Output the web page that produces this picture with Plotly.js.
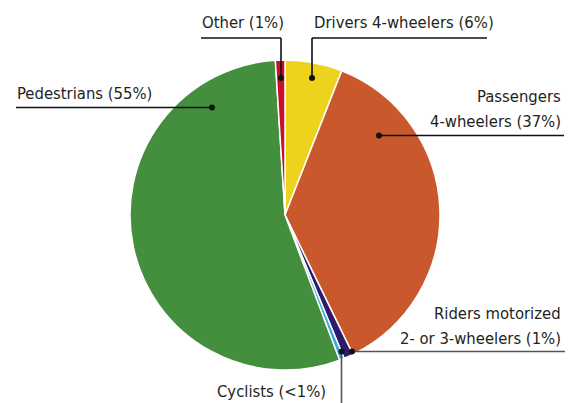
<!DOCTYPE html>
<html><head><meta charset="utf-8">
<script src="https://cdn.plot.ly/plotly-3.0.1.min.js"></script>
<style>body{margin:0;background:#fff}#c{width:576px;height:403px}</style>
</head><body><div id="c"></div>
<script>
const categories = ["Drivers 4-wheelers", "Passengers 4-wheelers", "Riders motorized 2- or 3-wheelers", "Cyclists", "Pedestrians", "Other"];
const values = [6, 37, 1, 0.5, 55, 1];
const shareLabels = ["6%", "37%", "1%", "<1%", "55%", "1%"];
const colors = ["#EDD31D", "#C9582D", "#2D1B6B", "#3DA7E0", "#438F3E", "#C8102E"];

const W = 576, H = 403;
const cx = 285, cy = 215, R = 155;
const px = x => x / W, py = y => 1 - y / H;

const FONT = {family: "'DejaVu Sans Condensed', 'Liberation Sans Narrow', sans-serif", size: 16.5, color: "#231f20"};

// label layout (pixel positions of text lines, leader paths, dot)
const labelLayout = [
  {i: 5, lines: ["Other (1%)"], anchor: "left", x: 200, ys: [23], path: [[201, 38], [281, 38], [281, 78]], col: "#111"},
  {i: 0, lines: ["Drivers 4-wheelers (6%)"], anchor: "left", x: 312, ys: [23], path: [[487, 38], [312, 38], [312, 78]], col: "#111"},
  {i: 4, lines: ["Pedestrians (55%)"], anchor: "left", x: 15, ys: [93], path: [[16, 107.5], [212, 107.5]], col: "#111"},
  {i: 1, lines: ["Passengers", "4-wheelers (37%)"], anchor: "right", x: 563, ys: [97, 122], path: [[564, 135.5], [379, 135.5]], col: "#111"},
  {i: 2, lines: ["Riders motorized", "2- or 3-wheelers (1%)"], anchor: "right", x: 563, ys: [313, 338], path: [[565, 351.5], [352, 351.5]], col: "#555"},
  {i: 3, lines: ["Cyclists (<1%)"], anchor: "right", x: 328, ys: [391], path: [[341.5, 403], [341.5, 351.5]], col: "#555"}
];

const shapes = [], annotations = [];
labelLayout.forEach(L => {
  L.lines.forEach((t, k) => {
    annotations.push({xref: "paper", yref: "paper", x: px(L.x), y: py(L.ys[k]), xanchor: L.anchor, yanchor: "middle",
      text: t, showarrow: false, font: FONT});
  });
  for (let k = 0; k < L.path.length - 1; k++) {
    shapes.push({type: "line", xref: "paper", yref: "paper", x0: px(L.path[k][0]), y0: py(L.path[k][1]),
      x1: px(L.path[k + 1][0]), y1: py(L.path[k + 1][1]), line: {color: L.col, width: 1.6}});
  }
  const d = L.path[L.path.length - 1];
  shapes.push({type: "circle", xref: "paper", yref: "paper", x0: px(d[0] - 3), x1: px(d[0] + 3),
    y0: py(d[1] + 3), y1: py(d[1] - 3), fillcolor: "#111", line: {width: 0}});
});

const trace = {
  type: "pie", labels: categories, values: values, sort: false, direction: "clockwise", rotation: 0,
  marker: {colors: colors, line: {color: "#ffffff", width: 1.5}},
  textinfo: "none", hoverinfo: "label+percent", showlegend: false,
  domain: {x: [px(cx - R), px(cx + R)], y: [py(cy + R), py(cy - R)]}
};

Plotly.newPlot("c", [trace], {
  width: W, height: H, margin: {l: 0, r: 0, t: 0, b: 0},
  paper_bgcolor: "#fff", showlegend: false, shapes: shapes, annotations: annotations
}, {staticPlot: true});
</script></body></html>
